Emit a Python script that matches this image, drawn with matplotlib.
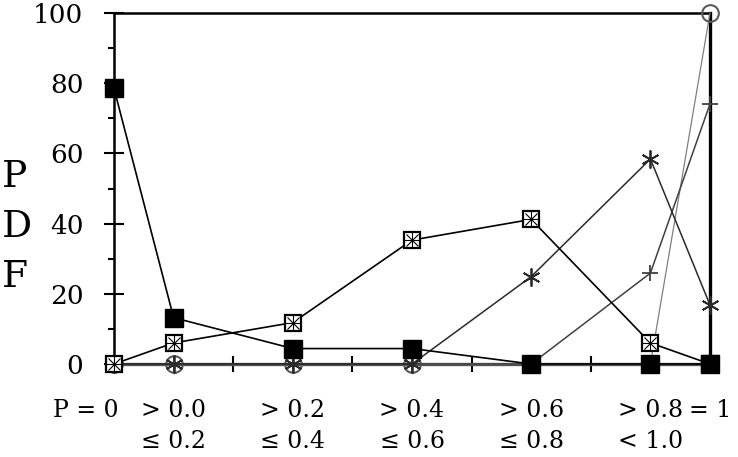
import matplotlib
matplotlib.use("Agg")
import matplotlib.pyplot as plt
from matplotlib.transforms import ScaledTranslation

plt.rcParams['font.family'] = ['DejaVu Serif']

# categories (bins of P) and where they sit on the x axis
labels = ["P = 0", "> 0.0\n≤ 0.2", "> 0.2\n≤ 0.4", "> 0.4\n≤ 0.6",
          "> 0.6\n≤ 0.8", "> 0.8\n< 1.0", "= 1"]
xpos = [0, 0.5, 1.5, 2.5, 3.5, 4.5, 5]

# PDF values (%)
filled_sq = [78.5, 13.2, 4.4, 4.4, 0, 0, 0]
boxed_sq = [0, 6.0, 11.8, 35.3, 41.2, 6.0, 0]
asterisk = [0, 0, 0, 0, 24.9, 58.4, 16.8]
plus = [0, 0, 0, 0, 0, 25.9, 74.1]
circle = [0, 0, 0, 0, 0, 0, 100]

fig = plt.figure(figsize=(7.38, 4.57), dpi=100)
ax = fig.add_axes([114/738, 1-364/457, (710-114)/738, (364-13)/457])

# circles
ax.plot(xpos, circle, color='#808080', lw=0.9, marker='o', ms=12,
        mfc='none', mec='#5a5a5a', mew=1.5, clip_on=False, zorder=3)
# plus
ax.plot(xpos, plus, color='#404040', lw=1.1, marker='+', ms=12,
        mec='#404040', mew=1.3, clip_on=False, zorder=3)
# asterisk
ax.plot(xpos, asterisk, color='#2a2a2a', lw=1.1, marker=(6, 2, 0), ms=13,
        mec='#2a2a2a', mew=1.3, clip_on=False, zorder=4)
# boxed square with + and x
ax.plot(xpos, boxed_sq, color='black', lw=1.2, marker='s', ms=12,
        mfc='white', mec='black', mew=1.6, clip_on=False, zorder=5)
ax.plot(xpos, boxed_sq, ls='none', marker='+', ms=11, mec='black',
        mew=0.8, clip_on=False, zorder=5)
ax.plot(xpos, boxed_sq, ls='none', marker='x', ms=8, mec='black',
        mew=0.8, clip_on=False, zorder=5)
# filled square
ax.plot(xpos, filled_sq, color='black', lw=1.2, marker='s', ms=13,
        mfc='black', mec='black', clip_on=False, zorder=6)

ax.set_xlim(0, 5)
ax.set_ylim(0, 100)

for s in ['left', 'top']:
    ax.spines[s].set_linewidth(1.8)
ax.spines['right'].set_linewidth(2.4)
ax.spines['bottom'].set_linewidth(2.4)
ax.spines['bottom'].set_color('#555555')

ax.set_yticks(range(0, 101, 20))
ax.set_yticks(range(10, 100, 20), minor=True)
ax.tick_params(axis='y', which='major', direction='inout', length=14,
               width=1.5, pad=15, labelsize=19)
ax.tick_params(axis='y', which='minor', direction='out', length=4.5,
               width=1.5)

ax.set_xticks(xpos)
ax.set_xticklabels(labels, linespacing=1.45)
ax.set_xticks([1, 2, 3, 4], minor=True)
ax.tick_params(axis='x', which='major', length=0, pad=25, labelsize=17)
ax.tick_params(axis='x', which='minor', direction='inout', length=11.5,
               width=1.5)
first = ax.get_xticklabels()[0]
first.set_ha('right')
first.set_transform(first.get_transform() +
                    ScaledTranslation(5/100, 0, fig.dpi_scale_trans))

fig.text(2/738, 1-227/457, "P\nD\nF", ha='left', va='center',
         fontsize=27, linespacing=1.5)

fig.savefig('out.png', dpi=100)
